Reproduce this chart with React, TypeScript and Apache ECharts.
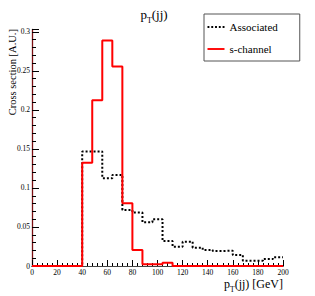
import React, { useEffect, useRef } from "react";
import * as echarts from "echarts";

const binEdges = [0, 8, 16, 24, 32, 40, 48, 56, 64, 72, 80, 88, 96, 104, 112, 120, 128, 136, 144, 152, 160, 168, 176, 184, 192, 200];
const associated = [0, 0, 0, 0, 0, 0.1466, 0.1466, 0.1124, 0.1167, 0.0718, 0.0684, 0.056, 0.0598, 0.032, 0.0248, 0.0312, 0.0235, 0.0205, 0.0192, 0.0196, 0.0141, 0.0068, 0.0068, 0.009, 0.0111];
const sChannel = [0, 0, 0, 0, 0, 0.1324, 0.2124, 0.289, 0.2556, 0.0803, 0.0205, 0.0022, 0.0022, 0.0042, 0, 0, 0, 0, 0, 0, 0, 0, 0, 0, 0];
const seriesNames = ["Associated", "s-channel"];
const xTicks = { min: 0, max: 200, interval: 20 };
const yTicks = { min: 0, max: 0.303, interval: 0.05 };

const FONT = "'Liberation Serif', 'DejaVu Serif', serif";

function toSteps(vals: number[]) {
  return binEdges.map((e, i) => [e, vals[Math.min(i, vals.length - 1)]]);
}

export default function App() {
  const ref = useRef<HTMLDivElement>(null);
  useEffect(() => {
    if (!ref.current) return;
    const chart = echarts.init(ref.current, undefined, { renderer: "svg" });
    chart.setOption({
      animation: false,
      backgroundColor: "#fff",
      grid: { left: 32, right: 32, top: 29.5, bottom: 30, show: false },
      legend: {
        orient: "vertical",
        left: 204,
        top: 14,
        padding: [7, 22, 6, 3.5],
        itemWidth: 17,
        itemHeight: 2,
        itemGap: 10,
        backgroundColor: "#fff",
        borderColor: "#555",
        borderWidth: 1,
        textStyle: { fontFamily: FONT, fontSize: 11, color: "#000", lineHeight: 12 },
        data: [
          {
            name: seriesNames[0],
            icon: "path://M0,0H2V2H0Z M4,0H6V2H4Z M8,0H10V2H8Z M12,0H14V2H12Z M16,0H18V2H16Z",
            itemStyle: { color: "#000" },
          },
          {
            name: seriesNames[1],
            icon: "path://M0,0H18V2H0Z",
            itemStyle: { color: "#ff0000" },
          },
        ],
      },
      xAxis: [
        {
          type: "value",
          min: xTicks.min,
          max: xTicks.max,
          interval: xTicks.interval,
          position: "bottom",
          axisLine: { show: true, lineStyle: { color: "#000", width: 1 } },
          axisTick: { show: true, inside: true, length: 6, lineStyle: { color: "#000" } },
          minorTick: { show: true, splitNumber: 5, length: 3, lineStyle: { color: "#000" } },
          axisLabel: { fontFamily: FONT, fontSize: 7.5, color: "#000", margin: 2 },
          splitLine: { show: false },
        },
        {
          type: "value",
          min: xTicks.min,
          max: xTicks.max,
          position: "top",
          axisLine: { show: true, lineStyle: { color: "#444", width: 1 } },
          axisTick: { show: false },
          axisLabel: { show: false },
          splitLine: { show: false },
        },
      ],
      yAxis: [
        {
          type: "value",
          min: yTicks.min,
          max: yTicks.max,
          interval: yTicks.interval,
          position: "left",
          axisLine: { show: true, lineStyle: { color: "#000", width: 1 } },
          axisTick: { show: true, inside: true, length: 7, lineStyle: { color: "#000" } },
          minorTick: { show: true, splitNumber: 5, length: 4, lineStyle: { color: "#000" } },
          axisLabel: {
            fontFamily: FONT,
            fontSize: 7.5,
            color: "#000",
            margin: 2,
            showMaxLabel: false,
            formatter: (v: number) => {
              const r = Math.round(v / 0.05) * 0.05;
              if (Math.abs(r - v) > 1e-6) return "";
              return String(parseFloat(v.toFixed(2)));
            },
          },
          splitLine: { show: false },
        },
        {
          type: "value",
          min: yTicks.min,
          max: yTicks.max,
          position: "right",
          axisLine: { show: true, lineStyle: { color: "#7a0f12", width: 1.3 } },
          axisTick: { show: false },
          axisLabel: { show: false },
          splitLine: { show: false },
        },
      ],
      series: [
        {
          name: seriesNames[0],
          type: "line",
          step: "end",
          clip: false,
          symbol: "none",
          data: toSteps(associated),
          lineStyle: { color: "#000", width: 2, type: [2, 2] },
          itemStyle: { color: "#000" },
        },
        {
          name: seriesNames[1],
          type: "line",
          step: "end",
          clip: false,
          symbol: "none",
          data: toSteps(sChannel),
          lineStyle: { color: "#ff0000", width: 2 },
          itemStyle: { color: "#ff0000" },
        },
      ],
      graphic: [
        {
          type: "text",
          x: 154,
          y: 14,
          style: {
            text: "{a|p}{b|T}{a|(jj)}",
            align: "center",
            verticalAlign: "middle",
            rich: {
              a: { fontFamily: FONT, fontSize: 13, fill: "#000", lineHeight: 16 },
              b: { fontFamily: FONT, fontSize: 8, fill: "#000", lineHeight: 20, verticalAlign: "bottom" },
            },
          },
        },
        {
          type: "text",
          x: 283,
          y: 284,
          style: {
            text: "{a|p}{b|T}{a|(jj) [GeV]}",
            align: "right",
            verticalAlign: "middle",
            rich: {
              a: { fontFamily: FONT, fontSize: 12, fill: "#000", lineHeight: 14 },
              b: { fontFamily: FONT, fontSize: 7.5, fill: "#000", lineHeight: 18, verticalAlign: "bottom" },
            },
          },
        },
        {
          type: "text",
          x: 12,
          y: 29,
          rotation: Math.PI / 2,
          style: {
            text: "Cross section [A.U.]",
            align: "right",
            verticalAlign: "middle",
            fontFamily: FONT,
            fontSize: 10.5,
            fill: "#000",
          },
        },
      ],
    });
    return () => chart.dispose();
  }, []);
  return (
    <div
      ref={ref}
      style={{ position: "fixed", left: 0, top: 0, width: 315, height: 296, background: "#fff" }}
    />
  );
}
